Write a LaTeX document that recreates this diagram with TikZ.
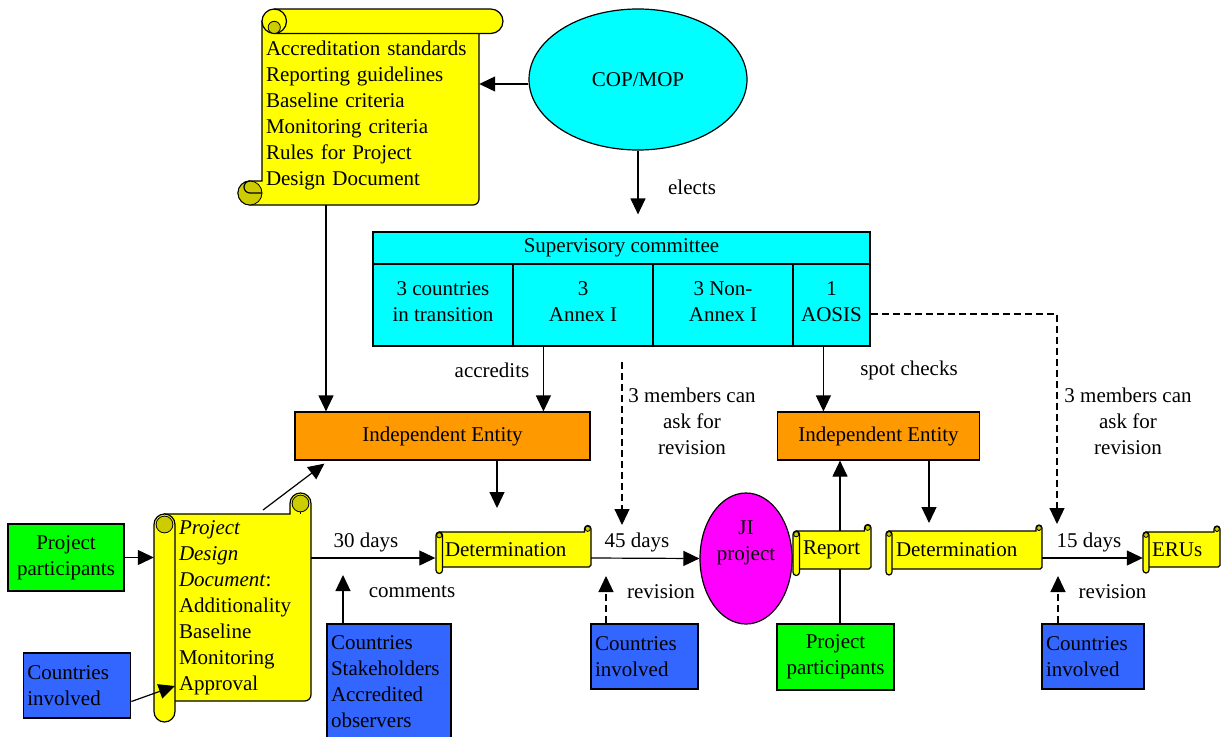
\documentclass[tikz,border=0pt]{standalone}
\usepackage{fontspec}
\setmainfont{Liberation Serif}
\usetikzlibrary{arrows.meta,shapes.geometric,calc}
\definecolor{scy}{HTML}{FFFF00}
\definecolor{scd}{HTML}{CCCC00}
\definecolor{cyn}{HTML}{00FFFF}
\definecolor{org}{HTML}{FF9900}
\definecolor{grn}{HTML}{00FF00}
\definecolor{blu}{HTML}{3366FF}
\definecolor{mag}{HTML}{FF00FF}
\newcommand\dfont{\fontsize{21pt}{26pt}\selectfont}
\newcommand\lowstrut{\rule[-7pt]{0pt}{0pt}}
\tikzset{
 every node/.style={font=\dfont, inner sep=0pt, text=black},
 ln/.style={line width=1.2pt},
 box/.style={draw, line width=1.2pt, rectangle, align=center},
 lbox/.style={box, align=left, inner xsep=4pt},
 stext/.style={align=left},
 scr/.style={fill=scy, draw=black, line width=1.2pt},
 scrd/.style={fill=scd, draw=black, line width=0.8pt},
 arr/.style={line width=1.2pt, -{Triangle[length=16pt,width=15pt]}},
 darr/.style={arr, dash pattern=on 7pt off 4pt},
 lbl/.style={align=center},
}
\newcommand\myhscroll[5]{%
 \pgfmathsetmacro\sL{#1}%
 \pgfmathsetmacro\sT{-(#2)}%
 \pgfmathsetmacro\sR{#3}%
 \pgfmathsetmacro\sB{-(#4)}%
 \pgfmathsetmacro\sd{#5}%
 \pgfmathsetmacro\sh{#5/2}%
 \pgfmathsetmacro\sr{0.3*#5}%
 \filldraw[scr] (\sL+\sh,\sB) -- (\sL+\sh,\sT) -- (\sR-\sd,\sT) -- (\sR-\sd,\sT+\sh) arc[start angle=180,end angle=0,radius=\sh] -- (\sR,\sB+\sr) arc[start angle=0,end angle=-90,radius=\sr] -- cycle;
 \filldraw[scrd] (\sR-\sh,\sT+\sh) circle[radius=0.8*\sh];
 \draw[ln] (\sR-\sh,\sT+0.2*\sh) -- (\sR-\sh,\sT);
 \filldraw[scr,rounded corners=\sh pt] (\sL,\sT) rectangle (\sL+\sd,\sB-\sd);
 \filldraw[scrd] (\sL+\sh,\sT-\sh) circle[radius=0.8*\sh];
}
\begin{document}
\begin{tikzpicture}[x=1pt,y=1pt]
\useasboundingbox (0,0) rectangle (1223,-736);
\fill[white] (0,0) rectangle (1223,-736);

% ---------- boxes ----------
\node[draw, fill=cyn, line width=1.2pt, ellipse, minimum width=218pt, minimum height=141pt] (cop) at (638,-79.5) {COP/MOP};

\node[box, fill=cyn, minimum width=497pt, minimum height=32pt] (hdr) at (621.5,-248) {Supervisory committee};
\node[box, fill=cyn, minimum width=140pt, minimum height=82pt] (c1) at (443,-305) {3 countries\\in transition\lowstrut};
\node[box, fill=cyn, minimum width=140pt, minimum height=82pt] (c2) at (583,-305) {3\\Annex I\lowstrut};
\node[box, fill=cyn, minimum width=140pt, minimum height=82pt] (c3) at (723,-305) {3 Non-\\Annex I\lowstrut};
\node[box, fill=cyn, minimum width=77pt, minimum height=82pt] (c4) at (831.5,-305) {1\\AOSIS\lowstrut};

\node[box, fill=org, minimum width=295pt, minimum height=48pt] (ie1) at (442.5,-436) {Independent Entity};
\node[box, fill=org, minimum width=202pt, minimum height=48pt] (ie2) at (878.5,-436) {Independent Entity};

\node[box, fill=grn, minimum width=116pt, minimum height=67pt] (pp1) at (66,-557.5) {Project\\participants};
\node[lbox, fill=blu, text width=99.5pt, minimum height=65pt] (ci1) at (77,-685.5) {Countries\\involved};
\node[lbox, fill=blu, text width=116pt, minimum height=116pt] (cs) at (389,-682) {Countries\\Stakeholders\\Accredited\\observers};
\node[lbox, fill=blu, text width=99pt, minimum height=65pt] (ci2) at (644.5,-656.5) {Countries\\involved};
\node[draw, fill=mag, line width=1.2pt, ellipse, minimum width=92pt, minimum height=131pt, label={[align=center, yshift=16pt]center:{JI\\project}}] (ji) at (746,-558.5) {};
\node[box, fill=grn, minimum width=117pt, minimum height=66pt] (pp2) at (835.5,-657) {Project\\participants};
\node[lbox, fill=blu, text width=94pt, minimum height=65pt] (ci3) at (1093,-656.5) {Countries\\involved};

% arrow hidden behind the Report scroll
\draw[arr] ([xshift=4.5pt]pp2.north) -- ([xshift=4.5pt]pp2.north |- ie2.south);

% ---------- scrolls ----------
% vertical scroll (standards)
\filldraw[scr] (262,-21) -- (479,-21) -- (479,-199) arc[start angle=0,end angle=-90,radius=6] -- (250,-205) arc[start angle=270,end angle=90,radius=12] -- (262,-181) -- cycle;
\filldraw[scrd] (250,-193) circle[radius=12];
\draw[ln] (262,-193) -- (250,-193) arc[start angle=-90,end angle=-270,radius=6];
\filldraw[scr, rounded corners=12.25pt] (262,-9) rectangle (503,-33.5);
\draw[ln] (274.25,-9) arc[start angle=90,end angle=-90,radius=12.25];
\filldraw[scrd] (274.25,-27.4) circle[radius=6.1];
\node[stext, text width=209pt, inner xsep=4pt, minimum height=180pt] (std) at (370.5,-115)
 {Accreditation standards\\Reporting guidelines\\Baseline criteria\\Monitoring criteria\\Rules for Project\\Design Document};

\myhscroll{154}{514}{311}{701}{21}
\node[stext, text width=128pt, inner xsep=4pt, minimum height=187pt] (pdd) at (243,-607.5)
 {\textit{Project}\\\textit{Design}\\\textit{Document}:\\Additionality\\Baseline\\Monitoring\\Approval};

\myhscroll{436}{532}{591}{567}{6.5}
\node[stext, text width=143pt, inner xsep=3pt, minimum height=35pt] (det1) at (516.5,-549.5) {Determination};

\myhscroll{793}{531}{871}{569}{6.5}
\node[stext, text width=64pt, inner xsep=4pt, minimum height=38pt] (rep) at (835,-550) {Report};

\myhscroll{886}{531}{1042}{569}{6}
\node[stext, text width=142pt, inner xsep=4pt, minimum height=38pt] (det2) at (967,-550) {Determination};

\myhscroll{1143}{532}{1220}{567}{6}
\node[stext, text width=65pt, inner xsep=3pt, minimum height=35pt] (erus) at (1184.5,-549.5) {ERUs};

% ---------- free ends ----------
\coordinate (row) at (0,-558);
\coordinate (t1) at (497,-508);
\coordinate (t2) at (929,-523);
\coordinate (d1a) at (622,-362);
\coordinate (d1b) at (622,-525);
\coordinate (d2b) at (1057,-524);
\coordinate (p0) at (263,-510);
\coordinate (u1) at (343,-575);
\coordinate (u2) at (606,-576);
\coordinate (u3) at (1058,-576);

% ---------- connectors ----------
\draw[arr] ([yshift=-4.5pt]cop.west) -- ([yshift=-4.5pt]cop.west -| std.east);
\draw[arr, shorten >=17pt] (cop.south) -- (cop.south |- hdr.north);
\draw[arr] ([xshift=-44.5pt]std.south) -- ([xshift=-44.5pt]std.south |- ie1.north);
\draw[arr] ([xshift=31pt]c2.south west) -- ([xshift=31pt]c2.south west |- ie1.north);
\draw[arr] ([xshift=31pt]c4.south west) -- ([xshift=31pt]c4.south west |- ie2.north);
\draw[arr] (ie1.south -| t1) -- (t1);
\draw[arr] (ie2.south -| t2) -- (t2);
\draw[darr] (d1a) -- (d1b);
\draw[darr] ([yshift=-9pt]c4.east) -| (d2b);
\draw[arr] (p0) -- ([xshift=30pt,yshift=-3pt]ie1.south west);
\draw[arr] (pp1.east) -- ([xshift=-21pt]pdd.west |- pp1.east);
\draw[arr] ([yshift=-16pt]ci1.east) -- ([yshift=-78.5pt]pdd.west);
\draw[arr] (pdd.east |- row) -- ([xshift=-6.5pt]det1.west |- row);
\draw[arr] (det1.east |- row) -- (ji.west);
\draw[arr] (det2.east |- row) -- ([xshift=-6pt]erus.west |- row);
\draw[arr] (cs.north -| u1) -- (u1);
\draw[darr] (ci2.north -| u2) -- (u2);
\draw[darr] (ci3.north -| u3) -- (u3);

% ---------- labels ----------
\node[lbl] (lelects) at (692,-187) {elects};
\node[lbl] (lacc) at (492,-370) {accredits};
\node[lbl] (lspot) at (909,-370) {spot checks};
\node[lbl] (lrev1) at (692,-421) {3 members can\\ask for\\revision};
\node[lbl] (lrev2) at (1128,-421) {3 members can\\ask for\\revision};
\node[lbl] (l30) at (366,-542) {30 days};
\node[lbl] (lcom) at (412,-592) {comments};
\node[lbl] (l45) at (637,-542) {45 days};
\node[lbl] (lrv1) at (661,-592) {revision};
\node[lbl] (l15) at (1089,-542) {15 days};
\node[lbl] (lrv2) at (1112.5,-592) {revision};
\end{tikzpicture}
\end{document}
